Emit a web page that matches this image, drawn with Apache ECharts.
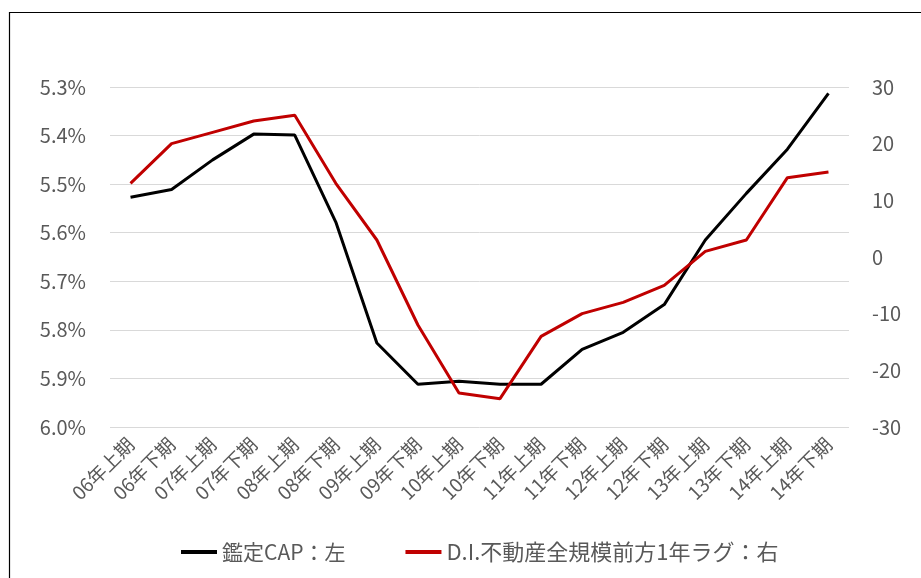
<!DOCTYPE html>
<html><head><meta charset="utf-8">
<script src="https://cdn.jsdelivr.net/npm/echarts@6/dist/echarts.min.js"></script>
<style>html,body{margin:0;padding:0;background:#fff}#c{width:921px;height:578px}</style>
</head><body><div id="c"></div>
<script>
const categories = ['06年上期','06年下期','07年上期','07年下期','08年上期','08年下期','09年上期','09年下期','10年上期','10年下期','11年上期','11年下期','12年上期','12年下期','13年上期','13年下期','14年上期','14年下期'];
const capValues = [5.527,5.511,5.450,5.397,5.399,5.578,5.827,5.912,5.906,5.912,5.912,5.840,5.805,5.748,5.615,5.519,5.428,5.313];
const diValues = [13,20,22,24,25,13,3,-12,-24,-25,-14,-10,-8,-5,1,3,14,15];
const leftTicks = {min:5.3, max:6.0, interval:0.1};
const rightTicks = {min:-30, max:30, interval:10};
const seriesNames = ['鑑定CAP：左','D.I.不動産全規模前方1年ラグ：右'];

const font = '"Noto Sans CJK JP", "Noto Sans", sans-serif';
const chart = echarts.init(document.getElementById('c'), null, {renderer:'canvas'});
chart.setOption({
  animation:false,
  backgroundColor:'#fff',
  textStyle:{fontFamily:font},
  graphic:[{type:'rect', shape:{x:9.5,y:12.5,width:1000,height:1000}, style:{fill:'none',stroke:'#000',lineWidth:1.2}, silent:true}],
  grid:{left:110,right:72,top:87,bottom:151},
  legend:{left:176, top:536, itemGap:60, itemWidth:36, itemHeight:4, icon:'rect',
    textStyle:{fontSize:21,color:'#595959',fontFamily:font},
    data:[{name:seriesNames[0]},{name:seriesNames[1], textStyle:{fontSize:22}}]},
  xAxis:{type:'category', data:categories, boundaryGap:true,
    axisLine:{show:false}, axisTick:{show:false},
    axisLabel:{rotate:45, interval:0, margin:14, fontSize:19, color:'#595959', fontFamily:font}},
  yAxis:[
    {type:'value', inverse:true, min:leftTicks.min, max:leftTicks.max, interval:leftTicks.interval,
     axisLine:{show:false}, axisTick:{show:false},
     splitLine:{lineStyle:{color:'#d9d9d9',width:1}},
     axisLabel:{margin:24, fontSize:20, color:'#595959', fontFamily:font, formatter:v=>v.toFixed(1)+'%'}},
    {type:'value', min:rightTicks.min, max:rightTicks.max, interval:rightTicks.interval, position:'right',
     axisLine:{show:false}, axisTick:{show:false}, splitLine:{show:false},
     axisLabel:{margin:23, fontSize:20, color:'#595959', fontFamily:font}}
  ],
  series:[
    {name:seriesNames[0], type:'line', yAxisIndex:0, data:capValues, showSymbol:false, symbol:'none',
     lineStyle:{color:'#000',width:3}, itemStyle:{color:'#000'}},
    {name:seriesNames[1], type:'line', yAxisIndex:1, data:diValues, showSymbol:false, symbol:'none',
     lineStyle:{color:'#C00000',width:3}, itemStyle:{color:'#C00000'}}
  ]
});
</script></body></html>
